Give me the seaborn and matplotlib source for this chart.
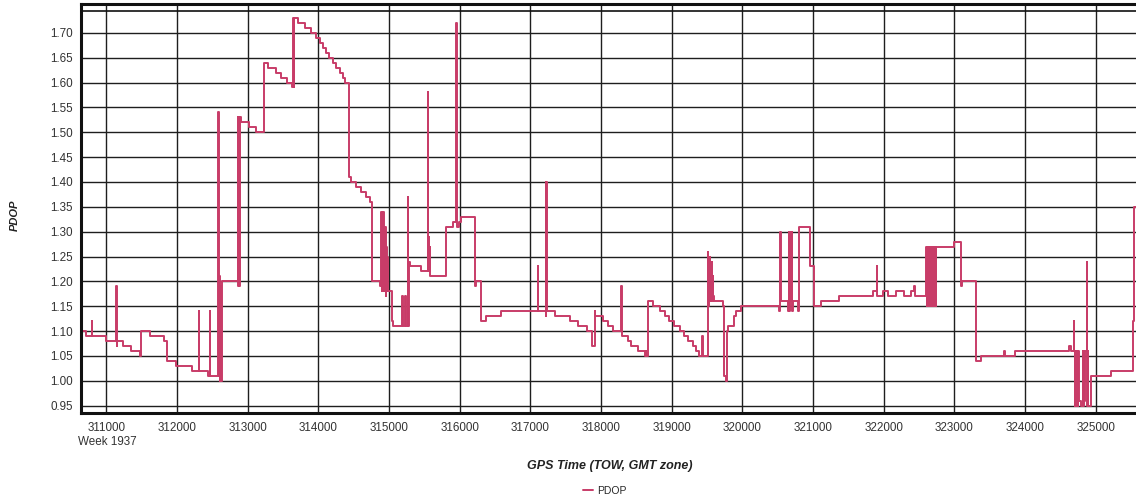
import matplotlib
matplotlib.use("Agg")
import matplotlib.pyplot as plt
import numpy as np
import pandas as pd
import seaborn as sns

# Data ------------------------------------------------------------------------

gps_time = [
    310640, 310650, 310707, 310790, 310800, 311000, 311141, 311147, 311155,
    311235, 311344, 311471, 311485, 311613, 311811, 311863, 311990, 312217,
    312306, 312314, 312437, 312461, 312469, 312579, 312587, 312595, 312601,
    312607, 312613, 312619, 312625, 312632, 312862, 312868, 312876, 312882,
    312888, 312907, 313016, 313112, 313225, 313282, 313395, 313476, 313555,
    313620, 313640, 313648, 313656, 313711, 313805, 313900, 313971, 314027,
    314064, 314112, 314149, 314206, 314254, 314300, 314347, 314381, 314432,
    314466, 314527, 314607, 314678, 314725, 314757, 314866, 314890, 314897,
    314904, 314911, 314918, 314925, 314932, 314939, 314946, 314953, 314960,
    314967, 314975, 314984, 315040, 315060, 315187, 315195, 315225, 315233,
    315265, 315273, 315280, 315300, 315456, 315549, 315556, 315562, 315568,
    315575, 315582, 315810, 315903, 315951, 315958, 315990, 316022, 316210,
    316234, 316305, 316376, 316588, 317105, 317112, 317214, 317220, 317226,
    317232, 317341, 317554, 317671, 317794, 317865, 317907, 317920, 318025,
    318091, 318162, 318285, 318293, 318379, 318427, 318520, 318615, 318630,
    318640, 318661, 318732, 318827, 318898, 318968, 319039, 319110, 319180,
    319227, 319298, 319346, 319392, 319431, 319438, 319510, 319517, 319524,
    319531, 319538, 319545, 319552, 319559, 319566, 319573, 319580, 319590,
    319605, 319722, 319746, 319765, 319779, 319800, 319874, 319910, 319983,
    320520, 320530, 320540, 320650, 320657, 320664, 320671, 320680, 320700,
    320706, 320712, 320790, 320798, 320959, 321020, 321115, 321374, 321845,
    321902, 321908, 321986, 322057, 322175, 322293, 322387, 322434, 322440,
    322600, 322607, 322614, 322621, 322628, 322635, 322642, 322649, 322656,
    322663, 322670, 322677, 322684, 322691, 322698, 322705, 322712, 322719,
    322726, 322733, 322742, 323000, 323095, 323114, 323307, 323378, 323707,
    323715, 323858, 324626, 324650, 324688, 324695, 324705, 324712, 324719,
    324726, 324733, 324740, 324747, 324754, 324761, 324790, 324815, 324822,
    324829, 324836, 324843, 324872, 324880, 324890, 324897, 324933, 325216,
    325522, 325546, 325570,
]

pdop = [
    1.16, 1.10, 1.09, 1.12, 1.09, 1.08, 1.19, 1.07, 1.08,
    1.07, 1.06, 1.05, 1.10, 1.09, 1.08, 1.04, 1.03, 1.02,
    1.14, 1.02, 1.01, 1.14, 1.01, 1.54, 1.01, 1.21, 1.00,
    1.20, 1.01, 1.19, 1.00, 1.20, 1.53, 1.19, 1.53, 1.19,
    1.53, 1.52, 1.51, 1.50, 1.64, 1.63, 1.62, 1.61, 1.60,
    1.59, 1.73, 1.59, 1.73, 1.72, 1.71, 1.70, 1.69, 1.68,
    1.67, 1.66, 1.65, 1.64, 1.63, 1.62, 1.61, 1.60, 1.41,
    1.40, 1.39, 1.38, 1.37, 1.36, 1.20, 1.19, 1.34, 1.18,
    1.31, 1.19, 1.34, 1.18, 1.30, 1.18, 1.31, 1.17, 1.27,
    1.18, 1.25, 1.18, 1.12, 1.11, 1.17, 1.11, 1.17, 1.11,
    1.37, 1.11, 1.24, 1.23, 1.22, 1.58, 1.22, 1.29, 1.22,
    1.27, 1.21, 1.31, 1.32, 1.72, 1.31, 1.32, 1.33, 1.19,
    1.20, 1.12, 1.13, 1.14, 1.23, 1.14, 1.40, 1.13, 1.40,
    1.14, 1.13, 1.12, 1.11, 1.10, 1.07, 1.14, 1.13, 1.12,
    1.11, 1.10, 1.19, 1.09, 1.08, 1.07, 1.06, 1.05, 1.06,
    1.05, 1.16, 1.15, 1.14, 1.13, 1.12, 1.11, 1.10, 1.09,
    1.08, 1.07, 1.06, 1.05, 1.09, 1.05, 1.26, 1.15, 1.22,
    1.16, 1.25, 1.16, 1.22, 1.17, 1.24, 1.16, 1.21, 1.17,
    1.16, 1.15, 1.01, 1.00, 1.10, 1.11, 1.13, 1.14, 1.15,
    1.14, 1.30, 1.16, 1.14, 1.30, 1.14, 1.30, 1.16, 1.30,
    1.14, 1.16, 1.14, 1.31, 1.23, 1.15, 1.16, 1.17, 1.18,
    1.23, 1.17, 1.18, 1.17, 1.18, 1.17, 1.18, 1.19, 1.17,
    1.27, 1.15, 1.27, 1.16, 1.27, 1.15, 1.27, 1.16, 1.27,
    1.15, 1.27, 1.16, 1.27, 1.15, 1.27, 1.16, 1.27, 1.15,
    1.27, 1.15, 1.27, 1.28, 1.19, 1.20, 1.04, 1.05, 1.06,
    1.05, 1.06, 1.07, 1.06, 1.12, 1.06, 0.95, 1.06, 0.96,
    1.06, 0.95, 1.06, 0.95, 1.06, 0.96, 0.95, 1.06, 0.95,
    1.06, 0.96, 1.06, 1.24, 0.95, 1.06, 0.95, 1.01, 1.02,
    1.12, 1.35, 1.35,
]

x_ticks = list(range(311000, 326000, 1000))
y_ticks = [0.95, 1.00, 1.05, 1.10, 1.15, 1.20, 1.25, 1.30, 1.35, 1.40,
           1.45, 1.50, 1.55, 1.60, 1.65, 1.70]

df = pd.DataFrame({"gps_time": gps_time, "pdop": pdop})

# Style -----------------------------------------------------------------------

sns.set_style("white")
plt.rcParams["font.family"] = ["Liberation Sans", "DejaVu Sans"]

line_color = "#c83c68"

fig = plt.figure(figsize=(11.36, 4.99), dpi=100)
ax = fig.add_axes([81 / 1136, 1 - 413 / 499, 1 - 81 / 1136, 409 / 499])

sns.lineplot(
    data=df,
    x="gps_time",
    y="pdop",
    estimator=None,
    sort=False,
    drawstyle="steps-post",
    color=line_color,
    lw=1.4,
    ax=ax,
)

# Axes ------------------------------------------------------------------------

ax.set_xlim(310640, 325570)
ax.set_ylim(0.9353, 1.7579)
ax.set_xticks(x_ticks)
ax.set_yticks(y_ticks)
ax.set_yticklabels([f"{v:.2f}" for v in y_ticks])
ax.grid(True, color="#1e1e1e", lw=1.0)
ax.set_axisbelow(True)
ax.axhline(1.7437, color="#111111", lw=1.2)

ax.tick_params(axis="both", labelsize=8.4, labelcolor="#333333",
               width=1, color="#333333")
ax.tick_params(axis="y", length=5, pad=1)
ax.tick_params(axis="x", length=4, pad=2.5)

for side in ["left", "bottom", "top"]:
    ax.spines[side].set_color("#111111")
    ax.spines[side].set_linewidth(2.2)
ax.spines["right"].set_visible(False)

ax.set_xlabel("")
ax.set_ylabel("")

fig.text(15 / 1136, 1 - 215 / 499, "PDOP", rotation=90, fontsize=8,
         fontweight="bold", fontstyle="italic", color="#222222",
         ha="center", va="center")
fig.text(610 / 1136, 1 - 466 / 499, "GPS Time (TOW, GMT zone)", fontsize=9,
         fontweight="bold", fontstyle="italic", color="#222222",
         ha="center", va="center")
fig.text(78 / 1136, 1 - 442 / 499, "Week 1937", fontsize=8.4,
         color="#333333", ha="left", va="center")

handles = ax.get_lines()[:1]
fig.legend(handles, ["PDOP"], loc="center", bbox_to_anchor=(605 / 1136, 1 - 491 / 499),
           frameon=False, fontsize=7.5, handlelength=1.0, handletextpad=0.4,
           borderpad=0)

fig.savefig("out.png", dpi=100)
